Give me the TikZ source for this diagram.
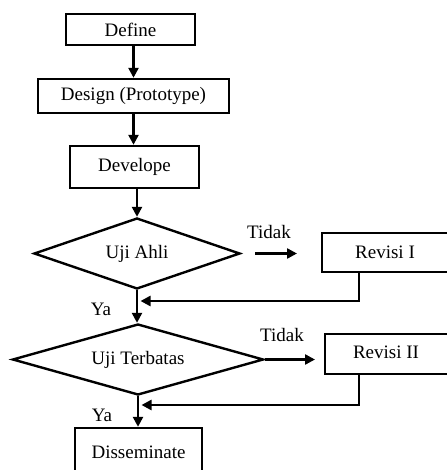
\documentclass[tikz,border=0pt]{standalone}
\usepackage{fontspec}
\setmainfont{Liberation Serif}
\usetikzlibrary{shapes.geometric,arrows.meta}
\begin{document}
\begin{tikzpicture}[x=1pt,y=-1pt,
  every node/.style={font=\fontsize{19}{22}\selectfont, inner sep=0pt},
  box/.style={draw, line width=2.4pt, rectangle},
  dec/.style={draw, line width=2.4pt, diamond, aspect=3.5},
  arr/.style={line width=2.4pt, -{Triangle[length=10pt,width=10pt]}}]
\fill[white] (0,0) rectangle (446,470);
\useasboundingbox (0,0) rectangle (446,470);
% nodes
\node[box, minimum width=129pt, minimum height=31pt] (define) at (130.5,29.5) {Define};
\node[box, minimum width=191pt, minimum height=34pt] (design) at (133.5,96) {Design (Prototype)};
\node[box, minimum width=129pt, minimum height=42pt] (develope) at (134.5,167) {Develope};
\node[dec, minimum width=206pt, minimum height=71pt] (ujiahli) at (137,253.5) {Uji Ahli};
\node[dec, minimum width=251pt, minimum height=71pt] (ujiterbatas) at (138,359.5) {Uji Terbatas};
\node[box, minimum width=132pt, minimum height=39pt] (rev1) at (388,252.5) {\hspace*{-6pt}Revisi I};
\node[box, minimum width=129pt, minimum height=40pt] (rev2) at (389.5,354) {\hspace*{-7pt}\raisebox{3pt}{Revisi II}};
\node[box, minimum width=127pt, minimum height=48pt] (dissem) at (138.5,452) {Disseminate};
% labels
\node (tidak1) at (269,232) {Tidak};
\node (tidak2) at (282,335) {Tidak};
\node (ya1) at (101,309) {Ya};
\node (ya2) at (102,415) {Ya};
% coordinates
\coordinate (t1a) at (255,253.5);
\coordinate (t1b) at (297,253.5);
\coordinate (t2b) at (315,359.5);
\coordinate (f1) at (359,301);
\coordinate (f2) at (359,405);
% connectors
\draw[arr] (define.south -| design.north) -- (design.north);
\draw[arr] (design.south) -- (design.south |- develope.north);
\draw[arr] (develope.south -| ujiahli.north) -- (ujiahli.north);
\draw[arr] (ujiahli.south) -- (ujiahli.south |- ujiterbatas.north);
\draw[arr] (ujiterbatas.south) -- (ujiterbatas.south |- dissem.north);
\draw[arr] (t1a) -- (t1b);
\draw[arr] (ujiterbatas.east) -- (t2b);
\draw[arr, shorten >=3.5pt] (rev1.south -| f1) -- (f1) -- (f1 -| ujiahli.south);
\draw[arr, shorten >=3.5pt] (rev2.south -| f2) -- (f2) -- (f2 -| ujiterbatas.south);
\end{tikzpicture}
\end{document}
